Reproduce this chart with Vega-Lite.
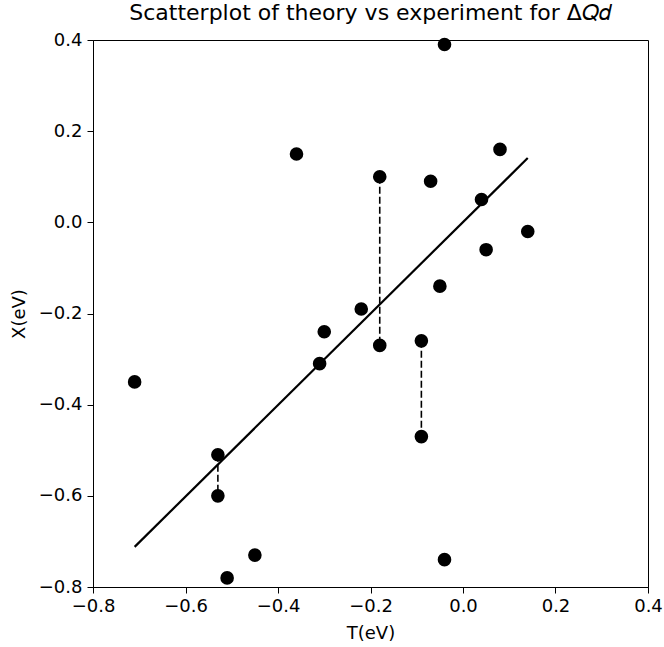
{
  "$schema": "https://vega.github.io/schema/vega-lite/v6.json",
  "autosize": "none",
  "width": 555,
  "height": 547,
  "padding": {"left": 93, "top": 40, "right": 16, "bottom": 60},
  "background": "white",
  "config": {
    "font": "DejaVu Sans",
    "view": {"stroke": "black", "strokeWidth": 1},
    "axis": {
      "grid": false,
      "domainColor": "black",
      "tickColor": "black",
      "tickSize": 6,
      "labelColor": "black",
      "labelFontSize": 18,
      "titleFontSize": 18,
      "titleFontWeight": "normal",
      "titleColor": "black",
      "labelFont": "DejaVu Sans",
      "titleFont": "DejaVu Sans",
      "labelFlush": false,
      "labelOverlap": false,
      "labelBound": false,
      "labelExpr": "replace(datum.label, '-', '−')"
    }
  },
  "title": {
    "text": "Scatterplot of theory vs experiment for Δ𝑄𝑑",
    "fontSize": 22,
    "fontWeight": "normal",
    "font": "DejaVu Sans",
    "color": "black",
    "anchor": "middle",
    "offset": 6
  },
  "datasets": {
    "points": [
      {"T": -0.71, "X": -0.35},
      {"T": -0.36, "X": 0.15},
      {"T": -0.18, "X": 0.10},
      {"T": -0.18, "X": -0.27},
      {"T": -0.04, "X": 0.39},
      {"T": 0.08, "X": 0.16},
      {"T": -0.07, "X": 0.09},
      {"T": 0.04, "X": 0.05},
      {"T": 0.14, "X": -0.02},
      {"T": 0.05, "X": -0.06},
      {"T": -0.05, "X": -0.14},
      {"T": -0.22, "X": -0.19},
      {"T": -0.30, "X": -0.24},
      {"T": -0.31, "X": -0.31},
      {"T": -0.09, "X": -0.26},
      {"T": -0.09, "X": -0.47},
      {"T": -0.53, "X": -0.51},
      {"T": -0.53, "X": -0.60},
      {"T": -0.45, "X": -0.73},
      {"T": -0.51, "X": -0.78},
      {"T": -0.04, "X": -0.74}
    ],
    "fit": [
      {"T": -0.71, "X": -0.712},
      {"T": 0.14, "X": 0.141}
    ],
    "segments": [
      {"T": -0.18, "X": 0.10, "X2": -0.27},
      {"T": -0.09, "X": -0.26, "X2": -0.47},
      {"T": -0.53, "X": -0.51, "X2": -0.60}
    ]
  },
  "encoding": {
    "x": {
      "field": "T", "type": "quantitative",
      "scale": {"domain": [-0.8, 0.4], "nice": false, "zero": false},
      "axis": {"title": "T(eV)", "values": [-0.8, -0.6, -0.4, -0.2, 0.0, 0.2, 0.4], "format": ".1f", "labelPadding": 4, "titlePadding": 9}
    },
    "y": {
      "field": "X", "type": "quantitative",
      "scale": {"domain": [-0.8, 0.4], "nice": false, "zero": false},
      "axis": {"title": "X(eV)", "values": [-0.8, -0.6, -0.4, -0.2, 0.0, 0.2, 0.4], "format": ".1f", "labelPadding": 5, "titlePadding": 10}
    }
  },
  "layer": [
    {
      "data": {"name": "segments"},
      "mark": {"type": "rule", "color": "black", "strokeWidth": 1.6, "strokeDash": [7, 3]},
      "encoding": {"y2": {"field": "X2"}}
    },
    {
      "data": {"name": "fit"},
      "mark": {"type": "line", "color": "black", "strokeWidth": 2.2}
    },
    {
      "data": {"name": "points"},
      "mark": {"type": "circle", "color": "black", "size": 185, "opacity": 1}
    }
  ]
}
